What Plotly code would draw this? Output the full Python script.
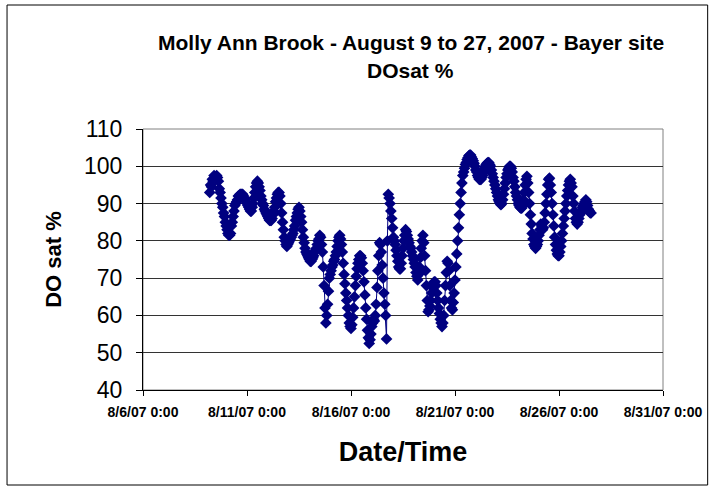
import pandas as pd
import plotly.graph_objects as go

# DO saturation readings, hourly starting 8/9/07 05:00
START = "2007-08-09 05:00"
DO_SAT = [
    # 8/9 (05:00-23:00)
    93, 95, 94.5, 96.5, 96, 97.5, 97, 96.5, 97.5, 97, 96, 94, 93, 91.5, 90, 89, 87.5, 86.5, 85,
    # 8/10
    84, 83, 82, 81.5, 81.5, 82, 84, 85, 86.5, 88, 89.5, 90, 90.5, 91, 92, 92, 92.5, 92.5, 92.5, 92.5, 92, 91.5, 91, 90.5,
    # 8/11
    90, 89.5, 89, 88.5, 88, 88, 89, 90, 91.5, 93, 94.5, 95.5, 96, 95.5, 94.5, 93.5, 92, 91, 90, 89.5, 88.5, 88, 87.5, 87,
    # 8/12
    86.5, 86, 85.5, 85.5, 85.5, 86, 87, 88, 89, 90.5, 91.5, 92.5, 93, 93, 92, 90, 87.5, 85, 83, 81, 80, 79, 78.5, 79,
    # 8/13
    79.5, 80, 80.5, 81, 81.5, 82, 83, 84, 85.5, 86.5, 87.5, 88.5, 89, 88, 86.5, 85, 83, 81, 79.5, 78, 77, 76.5, 76, 75.5,
    # 8/14
    75, 74.5, 74.5, 75, 75.5, 76, 77, 77.5, 78, 79, 80, 80.5, 81.5, 81, 79, 77, 73, 68, 62, 58, 60, 63, 66.5, 70,
    # 8/15
    71, 72, 73, 73.5, 74.5, 75, 76, 77, 78.5, 80, 81, 81.5, 80.5, 79, 77, 74, 71, 68.5, 66, 64, 62, 60, 58, 57,
    # 8/16
    56.5, 57.5, 59.5, 62, 65, 68, 70.5, 72.5, 74, 75, 76, 76, 75.5, 74, 72, 69, 65.5, 62, 59, 56, 54, 52.5, 53.5, 55,
    # 8/17
    57, 58, 59, 58.5, 60, 63, 67.5, 72, 76, 79.5, 79, 77, 73.5, 70, 66, 63, 60, 53.7, 80, 92.5, 91.5, 90, 88, 86,
    # 8/18
    83.5, 81, 80, 79, 77.5, 76, 74.5, 73, 72.5, 72.5, 74, 76, 78, 80, 81.5, 83, 82.5, 81.5, 80.5, 79.5, 78.5, 78, 77, 76,
    # 8/19
    75, 74, 73, 71.5, 70.5, 69.5, 71, 73, 75.5, 78, 80, 81.5, 79.5, 76, 72, 68, 64, 61, 61.5, 62.5, 64, 66, 67.5, 68.5,
    # 8/20
    69, 69, 68, 66, 64, 62, 60.5, 59, 58, 57, 58, 60, 64, 68, 71.5, 74.5, 74, 72, 68, 64, 62, 61.5, 63.5, 66,
    # 8/21
    69.5, 73, 76.5, 80, 83.5, 87, 90, 93, 95.5, 97.5, 98.5, 99.5, 100.5, 101, 101.8, 102.3, 102.8, 103, 103, 102.5, 102, 101.5, 100.8, 100,
    # 8/22
    99, 98.5, 97.5, 97, 96.5, 96.5, 96.5, 97, 97.5, 98.5, 99.5, 100, 100.5, 100.8, 101, 101, 100.5, 100, 99, 98, 97, 96, 95, 94,
    # 8/23
    93, 92, 91, 90.5, 90, 89.7, 90, 91, 92.5, 94, 95.5, 97, 98, 99, 99.5, 100, 100, 99.5, 98.5, 97, 96, 94.5, 93, 92,
    # 8/24
    91, 90, 89.5, 89, 88.8, 88.8, 89.5, 91, 93, 95, 96.5, 97.3, 95.5, 93, 90, 87, 84.5, 82, 80.5, 79, 78.5, 78, 78.5, 79,
    # 8/25
    80, 81.5, 83, 84.5, 84, 83, 83.5, 85, 87.5, 90, 92.5, 95, 96.5, 96.8, 95, 93, 90, 87, 84, 81, 79, 77.5, 76.5, 76,
    # 8/26
    76, 77, 78.5, 80, 82, 84, 86, 88, 90, 92, 93.5, 95, 96, 96.5, 95.5, 94.5, 92, 90, 88, 86, 85, 84.5, 85, 86,
    # 8/27 (00:00-13:00)
    87, 87.5, 88, 89, 89.5, 90, 90.5, 91, 90.5, 89.5, 88.5, 88, 87.5, 87.5,
]

TICK_DATES = ["2007-08-06", "2007-08-11", "2007-08-16", "2007-08-21", "2007-08-26", "2007-08-31"]
TICK_LABELS = ["8/6/07 0:00", "8/11/07 0:00", "8/16/07 0:00", "8/21/07 0:00", "8/26/07 0:00", "8/31/07 0:00"]
Y_TICKS = [40, 50, 60, 70, 80, 90, 100, 110]

times = pd.date_range(start=START, periods=len(DO_SAT), freq="h")

NAVY = "#000080"
FONT = "Arial, Liberation Sans, sans-serif"

fig = go.Figure()
fig.add_trace(go.Scatter(
    x=times, y=DO_SAT, mode="lines+markers",
    line=dict(color=NAVY, width=1),
    marker=dict(symbol="diamond", size=9, color=NAVY),
    showlegend=False,
))

W, H = 715, 488
L, R, T, B = 143, 48, 129, 98
pw, ph = W - L - R, H - T - B

fig.update_layout(
    width=W, height=H,
    margin=dict(l=L, r=R, t=T, b=B),
    paper_bgcolor="white", plot_bgcolor="white",
    font=dict(family=FONT, color="black"),
    xaxis=dict(
        type="date", range=[TICK_DATES[0], TICK_DATES[-1]],
        tickvals=TICK_DATES, ticktext=TICK_LABELS,
        tickfont=dict(size=14, family=FONT, weight="bold"),
        ticklabelstandoff=4,
        showgrid=False, zeroline=False,
        showline=True, linecolor="black", linewidth=1,
        ticks="outside", ticklen=5, tickcolor="black",
        title=dict(text="<b>Date/Time</b>", font=dict(size=27), standoff=23),
    ),
    yaxis=dict(
        range=[40, 110], tickvals=Y_TICKS,
        tickfont=dict(size=23),
        ticklabelstandoff=9,
        showgrid=True, gridcolor="#333333", gridwidth=1,
        zeroline=False,
        showline=True, linecolor="black", linewidth=1,
        ticks="outside", ticklen=6, tickcolor="black",
        title=dict(text="<b>DO sat %</b>", font=dict(size=22), standoff=16),
    ),
    shapes=[
        # grey plot-area frame (top/right)
        dict(type="rect", xref="paper", yref="paper", x0=0, y0=0, x1=1, y1=1,
             line=dict(color="#808080", width=1), layer="below"),
        # outer chart border
        dict(type="rect", xref="paper", yref="paper",
             x0=(6 - L) / pw, x1=(712 - L) / pw,
             y0=-(485 - T - ph) / ph, y1=1 + (T - 5) / ph,
             line=dict(color="black", width=1)),
    ],
    annotations=[
        dict(text="<b>Molly Ann Brook - August 9 to 27, 2007 - Bayer site</b>",
             xref="paper", yref="paper", x=(413 - L) / pw, y=1 + (T - 42) / ph,
             showarrow=False, font=dict(size=21), xanchor="center", yanchor="middle"),
        dict(text="<b>DOsat %</b>",
             xref="paper", yref="paper", x=(413 - L) / pw, y=1 + (T - 70) / ph,
             showarrow=False, font=dict(size=21), xanchor="center", yanchor="middle"),
    ],
)

fig.write_html("out.html", config={"displayModeBar": False},
               post_script="document.body.style.margin='0px';")
